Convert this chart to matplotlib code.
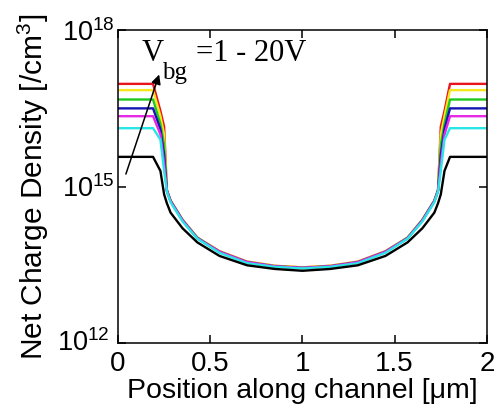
import matplotlib

matplotlib.use("Agg")

import matplotlib.pyplot as plt
import matplotlib.transforms as mtransforms
import numpy as np

# positions along channel [um]
position = [0, 0.19, 0.23, 0.25, 0.265, 0.285, 0.35, 0.43, 0.55, 0.7, 0.85, 1.0,
            1.15, 1.3, 1.45, 1.57, 1.65, 1.715, 1.735, 1.75, 1.77, 1.8, 2.0]

# log10 of net charge density [/cm^3], Vbg = 20V ... 1V
log_red = [16.97, 16.97, 16.45, 16.15, 14.93, 14.73, 14.36, 14.02, 13.76, 13.56, 13.48, 13.45,
           13.48, 13.56, 13.76, 14.02, 14.36, 14.73, 14.93, 16.15, 16.45, 16.97, 16.97]
log_yellow = [16.85, 16.85, 16.35, 16.0, 14.93, 14.73, 14.36, 14.02, 13.76, 13.56, 13.48, 13.45,
              13.48, 13.56, 13.76, 14.02, 14.36, 14.73, 14.93, 16.0, 16.35, 16.85, 16.85]
log_green = [16.67, 16.67, 16.2, 15.8, 14.93, 14.73, 14.36, 14.02, 13.75, 13.55, 13.47, 13.44,
             13.47, 13.55, 13.75, 14.02, 14.36, 14.73, 14.93, 15.8, 16.2, 16.67, 16.67]
log_blue = [16.5, 16.5, 16.1, 15.6, 14.92, 14.72, 14.35, 14.01, 13.75, 13.55, 13.47, 13.44,
            13.47, 13.55, 13.75, 14.01, 14.35, 14.72, 14.92, 15.6, 16.1, 16.5, 16.5]
log_magenta = [16.35, 16.35, 16.0, 15.45, 14.92, 14.72, 14.35, 14.01, 13.75, 13.55, 13.47, 13.44,
               13.47, 13.55, 13.75, 14.01, 14.35, 14.72, 14.92, 15.45, 16.0, 16.35, 16.35]
log_cyan = [16.12, 16.12, 15.9, 15.3, 14.9, 14.7, 14.33, 14.0, 13.73, 13.53, 13.46, 13.43,
            13.46, 13.53, 13.73, 14.0, 14.33, 14.7, 14.9, 15.3, 15.9, 16.12, 16.12]
log_black = [15.57, 15.57, 15.3, 14.85, 14.68, 14.5, 14.2, 13.93, 13.67, 13.49, 13.42, 13.385,
             13.42, 13.49, 13.67, 13.93, 14.2, 14.5, 14.68, 14.85, 15.3, 15.57, 15.57]

curves = [
    (log_red, "#e8141e"),
    (log_yellow, "#f5e61e"),
    (log_green, "#1ec81e"),
    (log_blue, "#1414b4"),
    (log_magenta, "#e628e6"),
    (log_cyan, "#28e6e6"),
    (log_black, "black"),
]

x_ticks = [0, 0.5, 1, 1.5, 2]
x_tick_labels = ["0", "0.5", "1", "1.5", "2"]
y_ticks = [1e12, 1e15, 1e18]
y_tick_labels = [r"$\mathregular{10^{12}}$", r"$\mathregular{10^{15}}$", r"$\mathregular{10^{18}}$"]

plt.rcParams["font.family"] = ["Liberation Sans", "DejaVu Sans"]

fig = plt.figure(figsize=(5.03, 4.19), dpi=100)
ax = fig.add_axes([0.2346, 0.1814, 0.968 - 0.2346, 0.928 - 0.1814])

for values, color in curves:
    ax.plot(position, np.power(10.0, values), color=color, linewidth=1.7)

ax.set_yscale("log")
ax.set_xlim(0, 2)
ax.set_ylim(1e12, 1e18)
ax.set_xticks(x_ticks)
ax.set_xticklabels(x_tick_labels)
ax.set_yticks(y_ticks)
ax.set_yticklabels(y_tick_labels)
ax.yaxis.set_minor_locator(matplotlib.ticker.NullLocator())
ax.tick_params(direction="in", length=6, width=1.1, top=True, right=True)
ax.tick_params(axis="x", pad=6, labelsize=20)
ax.tick_params(axis="y", pad=2, labelsize=19.5)
for spine in ax.spines.values():
    spine.set_linewidth(1.1)

# nudge the bottom y label so it does not collide with the "0" x label
bottom_label = ax.get_yticklabels()[0]
bottom_label.set_transform(bottom_label.get_transform()
                           + mtransforms.ScaledTranslation(-4 / 72, 2 / 72, fig.dpi_scale_trans))

ax.set_xlabel("Position along channel [\u03bcm]", fontsize=20.5, labelpad=0.5)
ax.set_ylabel("Net Charge Density [/cm$\\mathregular{^3}$]", fontsize=21.5, labelpad=4)

# Vbg annotation with arrow
ax.annotate("", xy=(0.228, 10**17.2), xytext=(0.038, 10**15.19),
            arrowprops={"arrowstyle": "-|>", "color": "black", "linewidth": 1.1,
                        "mutation_scale": 14})
serif = ["Liberation Serif", "DejaVu Serif"]
ax.text(0.065, 0.9, "V", transform=ax.transAxes, fontsize=22, family=serif)
ax.text(0.12, 0.845, "bg", transform=ax.transAxes, fontsize=18, family=serif)
ax.text(0.212, 0.9, "=1 - 20V", transform=ax.transAxes, fontsize=22, family=serif)

fig.savefig("out.png", dpi=100)
